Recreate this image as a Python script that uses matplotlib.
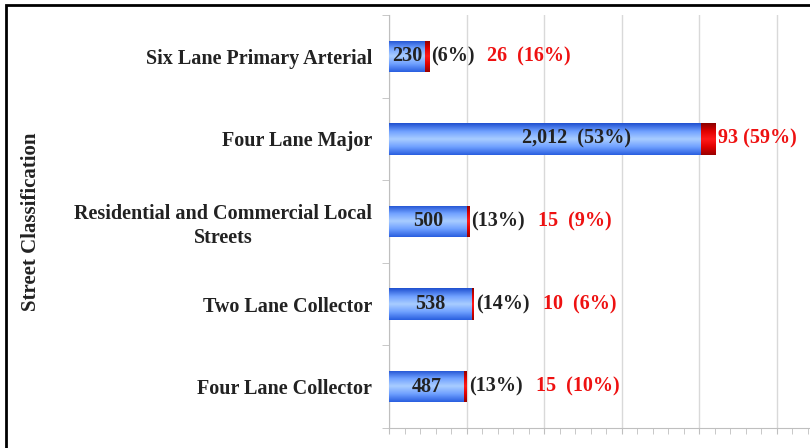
import numpy as np
import matplotlib
matplotlib.use("Agg")
import matplotlib.pyplot as plt
from matplotlib.patches import Rectangle
from matplotlib.colors import LinearSegmentedColormap
from matplotlib.ticker import MultipleLocator, FixedLocator

# data (top to bottom)
categories = ["Six Lane Primary Arterial", "Four Lane Major",
              "Residential and Commercial Local\nStreets",
              "Two Lane Collector", "Four Lane Collector"]
blue_vals = [230, 2012, 500, 538, 487]
blue_pct = [6, 53, 13, 14, 13]
red_vals = [26, 93, 15, 10, 15]
red_pct = [16, 59, 9, 6, 10]

serif = "Liberation Serif"
fs = 14.5
txt = "#222222"

fig = plt.figure(figsize=(8.1, 4.48), dpi=100)
ax = fig.add_axes([389 / 810, 1 - 428 / 448, 1 - 389 / 810, 413 / 448])

blue_cmap = LinearSegmentedColormap.from_list(
    "b", ["#2a5fe0", "#6fa0ff", "#a9cdff", "#6fa0ff", "#1f50d0"])
red_cmap = LinearSegmentedColormap.from_list(
    "r", ["#9a0000", "#e00000", "#ff1a1a", "#e00000", "#8a0000"])
grad = np.linspace(0, 1, 64).reshape(-1, 1)

n = len(categories)
ypos = np.arange(n)[::-1]
h = 0.38


def grad_bar(x0, w, y, cmap):
    bar = ax.barh(y, w, left=x0, height=h, color="none", edgecolor="none", zorder=3)[0]
    im = ax.imshow(grad, cmap=cmap, aspect="auto", zorder=3,
                   extent=(x0, x0 + w, y + h / 2, y - h / 2), interpolation="bilinear")
    im.set_clip_path(bar)


for i in range(n):
    y = ypos[i]
    grad_bar(0, blue_vals[i], y, blue_cmap)
    grad_bar(blue_vals[i], red_vals[i], y, red_cmap)
    total = blue_vals[i] + red_vals[i]
    num = f"{blue_vals[i]:,}"
    pct = f"({blue_pct[i]}%)"
    if blue_vals[i] > 1000:
        # big bar: number and share both inside, a bit right of centre
        ax.text(blue_vals[i] * 0.6, y, num + "  " + pct, ha="center", va="center",
                family=serif, weight="bold", fontsize=fs, color=txt, zorder=5)
        ax.annotate(f"{red_vals[i]} ({red_pct[i]}%)", xy=(total, y), xytext=(2, 0),
                    textcoords="offset points", ha="left", va="center", family=serif,
                    weight="bold", fontsize=fs, color="#ee1111", zorder=5)
    else:
        ax.text(blue_vals[i] / 2, y, num, ha="center", va="center",
                family=serif, weight="bold", fontsize=fs, color=txt, zorder=5)
        anchor = ax.annotate(pct, xy=(total, y), xytext=(1.5, 0), textcoords="offset points",
                             ha="left", va="center", family=serif, weight="bold",
                             fontsize=fs, color=txt, zorder=5)
        ax.annotate(f"{red_vals[i]}  ({red_pct[i]}%)", xy=(1, 0.5), xycoords=anchor,
                    xytext=(9.5, 0), textcoords="offset points", ha="left", va="center",
                    family=serif, weight="bold", fontsize=fs, color="#ee1111", zorder=5)

ax.set_xlim(0, 421 / 0.155)
ax.set_ylim(-0.5, n - 0.5)

ax.xaxis.set_major_locator(MultipleLocator(500))
ax.xaxis.set_minor_locator(MultipleLocator(100))
ax.tick_params(axis="x", which="both", labelbottom=False, length=4, color="#bfbfbf")
ax.grid(axis="x", which="major", color="#d9d9d9", lw=1, zorder=0)

ax.set_yticks(ypos)
ax.set_yticklabels(categories, family=serif, weight="bold", fontsize=fs,
                   color=txt, multialignment="center", linespacing=1.25)
ax.yaxis.set_minor_locator(FixedLocator(np.arange(n + 1) - 0.5))
ax.tick_params(axis="y", which="major", length=0, pad=12)
ax.tick_params(axis="y", which="minor", length=5, color="#bfbfbf")

for s in ["top", "right"]:
    ax.spines[s].set_visible(False)
ax.spines["left"].set_color("#bfbfbf")
ax.spines["bottom"].set_color("#bfbfbf")
ax.set_axisbelow(True)

fig.text(31 / 810, 1 - 222 / 448, "Street Classification", rotation=90, ha="center",
         va="center", family=serif, weight="bold", fontsize=15, color=txt)

fig.patches.append(Rectangle((6 / 810, -0.2), 1.2, 1 - 5 / 448 + 0.2, fill=False,
                             lw=2, edgecolor="black", transform=fig.transFigure))

fig.savefig("out.png", dpi=100)
